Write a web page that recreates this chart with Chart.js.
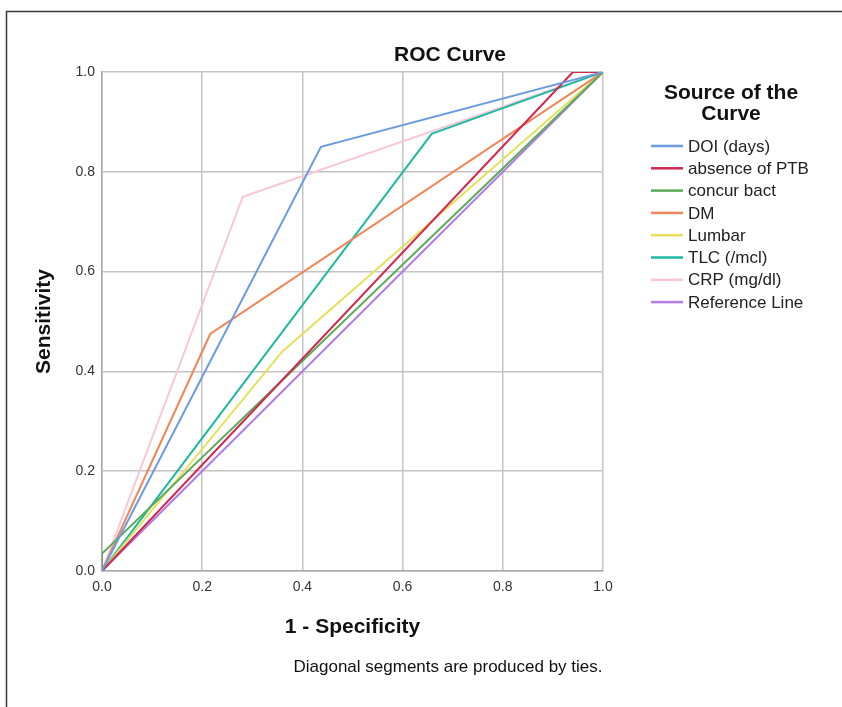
<!DOCTYPE html>
<html>
<head>
<meta charset="utf-8">
<script src="https://cdn.jsdelivr.net/npm/chart.js@4.4.0/dist/chart.umd.min.js"></script>
<style>
  html, body { margin: 0; padding: 0; background: #fff; }
  #wrap { width: 842px; height: 707px; }
</style>
</head>
<body>
<div id="wrap"><canvas id="rocChart" width="842" height="707"></canvas></div>
<script>
// curve names, in legend order
const curveNames = ['DOI (days)', 'absence of PTB', 'concur bact', 'DM', 'Lumbar', 'TLC (/mcl)', 'CRP (mg/dl)', 'Reference Line'];
const curveColors = ['#6b9be0', '#d0284f', '#5daa5d', '#ee8657', '#e6e05a', '#1fb9a2', '#f9c6d8', '#b27ce6'];

// 1 - specificity (x) and sensitivity (y) for each curve
const doiX = [0, 0.437, 1];
const doiY = [0, 0.85, 1];
const ptbX = [0, 0.94, 1];
const ptbY = [0, 1, 1];
const bactX = [0, 0, 1];
const bactY = [0, 0.035, 1];
const dmX = [0, 0.216, 1];
const dmY = [0, 0.475, 1];
const lumbarX = [0, 0.36, 1];
const lumbarY = [0, 0.44, 1];
const tlcX = [0, 0.658, 1];
const tlcY = [0, 0.876, 1];
const crpX = [0, 0.281, 1];
const crpY = [0, 0.75, 1];
const refX = [0, 1];
const refY = [0, 1];

const tickValues = [0, 0.2, 0.4, 0.6, 0.8, 1.0];
const chartTitle = 'ROC Curve';
const legendTitle = ['Source of the', 'Curve'];
const footnote = 'Diagonal segments are produced by ties.';

const xs = [doiX, ptbX, bactX, dmX, lumbarX, tlcX, crpX, refX];
const ys = [doiY, ptbY, bactY, dmY, lumbarY, tlcY, crpY, refY];

const FONT = '"Liberation Sans", Arial, sans-serif';

const datasets = curveNames.map(function (name, i) {
    return {
        label: name,
        data: xs[i].map(function (x, j) { return { x: x, y: ys[i][j] }; }),
        showLine: true,
        borderColor: curveColors[i],
        backgroundColor: curveColors[i],
        borderWidth: 2,
        pointRadius: 0,
        tension: 0
    };
});

// title, footnote, frame and the legend on the right
const sideNotes = {
    id: 'sideNotes',
    afterDraw(chart) {
        const ctx = chart.ctx;
        ctx.save();
        ctx.strokeStyle = '#3a3a3a';
        ctx.lineWidth = 1.5;
        ctx.strokeRect(6.5, 11.5, 900, 800);

        ctx.fillStyle = '#111';
        ctx.textAlign = 'center';
        ctx.textBaseline = 'middle';
        ctx.font = 'bold 21px ' + FONT;
        ctx.fillText(chartTitle, 450, 55);
        legendTitle.forEach(function (t, i) { ctx.fillText(t, 731, 93 + i * 21); });

        ctx.font = '17px ' + FONT;
        ctx.fillText(footnote, 448, 667);

        ctx.textAlign = 'left';
        chart.data.datasets.forEach(function (ds, i) {
            const y = 146 + i * 22.3;
            ctx.strokeStyle = ds.borderColor;
            ctx.lineWidth = 2.5;
            ctx.beginPath();
            ctx.moveTo(651, y);
            ctx.lineTo(683, y);
            ctx.stroke();
            ctx.fillStyle = '#222';
            ctx.fillText(ds.label, 688, y + 1);
        });
        ctx.restore();
    }
};

new Chart(document.getElementById('rocChart').getContext('2d'), {
    type: 'scatter',
    data: { datasets: datasets },
    plugins: [sideNotes],
    options: {
        responsive: false,
        animation: false,
        layout: { padding: { left: 6, top: 72, right: 239, bottom: 56 } },
        plugins: {
            legend: { display: false },
            title: { display: false },
            tooltip: { enabled: false }
        },
        scales: {
            x: {
                type: 'linear',
                min: 0,
                max: 1,
                afterBuildTicks: function (s) { s.ticks = tickValues.map(function (v) { return { value: v }; }); },
                afterFit: function (s) { s.height = 80; },
                ticks: {
                    callback: function (v) { return v.toFixed(1); },
                    font: { size: 14, family: FONT },
                    color: '#333',
                    padding: 8,
                    maxRotation: 0
                },
                grid: { color: '#c4c4c4', lineWidth: 1.5, drawTicks: false },
                border: { color: '#a8a8a8', width: 1.5 },
                title: {
                    display: true,
                    text: '1 - Specificity',
                    font: { size: 21, weight: 'bold', family: FONT },
                    color: '#111',
                    padding: { top: 0, bottom: 11 }
                }
            },
            y: {
                type: 'linear',
                min: 0,
                max: 1,
                afterBuildTicks: function (s) { s.ticks = tickValues.map(function (v) { return { value: v }; }); },
                afterFit: function (s) { s.width = 96; },
                ticks: {
                    callback: function (v) { return v.toFixed(1); },
                    font: { size: 14, family: FONT },
                    color: '#333',
                    padding: 7
                },
                grid: { color: '#c4c4c4', lineWidth: 1.5, drawTicks: false },
                border: { color: '#a8a8a8', width: 1.5 },
                title: {
                    display: true,
                    text: 'Sensitivity',
                    font: { size: 21, weight: 'bold', family: FONT },
                    color: '#111',
                    padding: { top: 26, bottom: 0 }
                }
            }
        }
    }
});
</script>
</body>
</html>
